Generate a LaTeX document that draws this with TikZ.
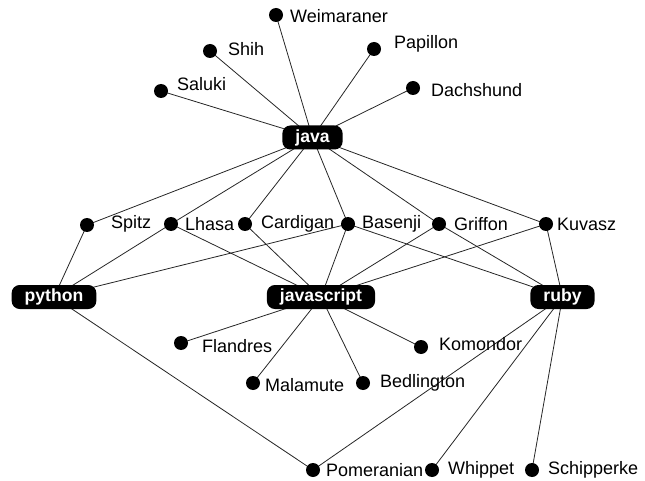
\documentclass[tikz,border=0pt]{standalone}
\usepackage{fontspec}
\setmainfont{Liberation Sans}
\begin{document}
\begin{tikzpicture}[x=1pt,y=-1pt,
  lang/.style={fill=black,text=white,rounded corners=8pt,font=\fontsize{17.6}{20}\selectfont\bfseries,inner xsep=13pt,minimum height=24pt,inner ysep=0pt},
  dot/.style={circle,fill=black,inner sep=0pt,minimum size=14pt},
  lbl/.style={anchor=west,inner sep=0pt,font=\fontsize{18}{20}\selectfont},
  edge/.style={draw=black!85,line width=0.8pt}]
\useasboundingbox (0,0) rectangle (645,481);
% dot coordinates
\coordinate (weim) at (276,15);
\coordinate (shih) at (210,51);
\coordinate (papi) at (374,49);
\coordinate (salu) at (161,91);
\coordinate (dach) at (413,88);
\coordinate (spit) at (87,225);
\coordinate (lhas) at (171,224);
\coordinate (card) at (245,224);
\coordinate (base) at (348,224);
\coordinate (grif) at (439,224);
\coordinate (kuva) at (546,224);
\coordinate (flan) at (181,343);
\coordinate (komo) at (421,347);
\coordinate (mala) at (253,383);
\coordinate (bedl) at (363,383);
\coordinate (pome) at (313,470);
\coordinate (whip) at (432,470);
\coordinate (schi) at (532,470);
\coordinate (javaC) at (312.5,137.5);
\coordinate (pyC) at (54,297);
\coordinate (jsC) at (321,297);
\coordinate (rbC) at (562.5,297);
% edges
\foreach \t in {weim,shih,papi,salu,dach,spit,lhas,card,base,grif,kuva}
  \path[edge] (javaC) -- (\t);
\foreach \t in {spit,lhas,base,pome}
  \path[edge] (pyC) -- (\t);
\foreach \t in {lhas,card,base,grif,kuva,flan,mala,bedl,komo}
  \path[edge] (jsC) -- (\t);
\foreach \t in {base,grif,kuva,pome,whip,schi}
  \path[edge] (rbC) -- (\t);
% language nodes
\node[lang] (java) at (javaC) {java};
\node[lang] (python) at (pyC) {python};
\node[lang] (javascript) at (jsC) {javascript};
\node[lang] (ruby) at (rbC) {ruby};
% dots
\foreach \t in {weim,shih,papi,salu,dach,spit,lhas,card,base,grif,kuva,flan,komo,mala,bedl,pome,whip,schi}
  \node[dot] (d\t) at (\t) {};
% labels
\node[lbl] (lweim) at (290,16) {Weimaraner};
\node[lbl] (lshih) at (228,49) {Shih};
\node[lbl] (lpapi) at (394,44) {Papillon};
\node[lbl] (lsalu) at (177,84) {Saluki};
\node[lbl] (ldach) at (431,90) {Dachshund};
\node[lbl] (lspit) at (111,224) {Spitz};
\node[lbl] (llhas) at (185,224) {Lhasa};
\node[lbl] (lcard) at (261,224) {Cardigan};
\node[lbl] (lbase) at (362,224) {Basenji};
\node[lbl] (lgrif) at (454,224) {Griffon};
\node[lbl] (lkuva) at (557,224) {Kuvasz};
\node[lbl] (lflan) at (202,346) {Flandres};
\node[lbl] (lkomo) at (439,344) {Komondor};
\node[lbl] (lmala) at (265,385) {Malamute};
\node[lbl] (lbedl) at (380,383) {Bedlington};
\node[lbl] (lpome) at (326,470) {Pomeranian};
\node[lbl] (lwhip) at (448,470) {Whippet};
\node[lbl] (lschi) at (548,470) {Schipperke};
\end{tikzpicture}
\end{document}
